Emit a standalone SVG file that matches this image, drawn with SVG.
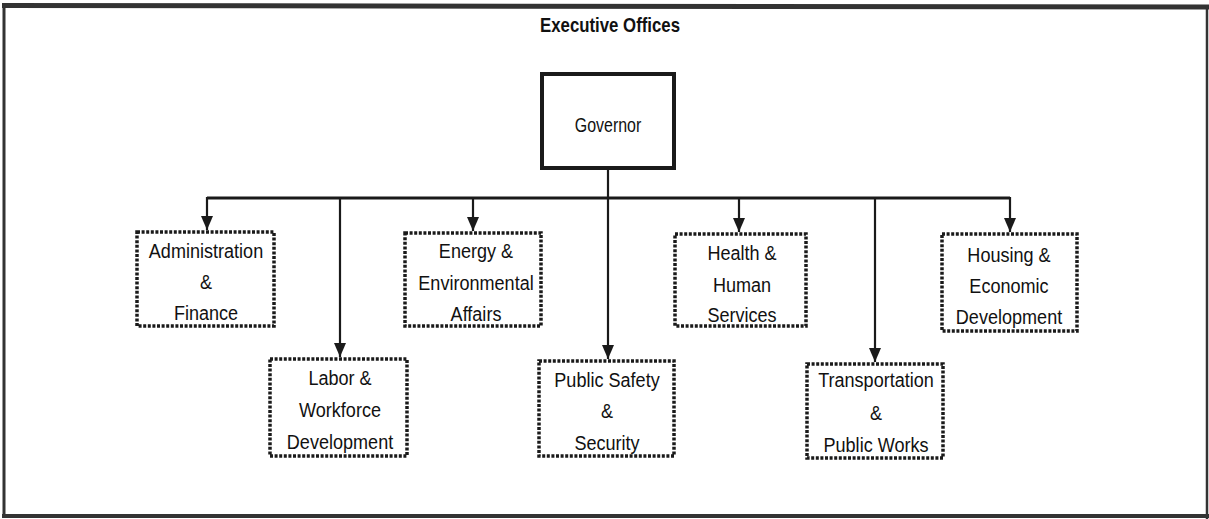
<svg xmlns="http://www.w3.org/2000/svg" width="1209" height="519" viewBox="0 0 1209 519">
  <defs>
    <style>
      .title { font-family: "Liberation Sans", Arial, sans-serif; font-weight: bold; font-size: 20px; fill: #111; }
      .lbl { font-family: "Liberation Sans", Arial, sans-serif; font-size: 21px; fill: #111; text-anchor: middle; }
      .gov { fill: #fff; stroke: #1a1a1a; stroke-width: 4; }
      .dept { fill: #fff; stroke: #1a1a1a; stroke-width: 3.5; stroke-dasharray: 3 1.6; }
      .conn { fill: none; stroke: #1a1a1a; stroke-width: 2.2; }
      .bus { fill: none; stroke: #1a1a1a; stroke-width: 3; }
    </style>
    <marker id="arr" viewBox="0 0 14 12" refX="14" refY="6" markerWidth="14" markerHeight="12" markerUnits="userSpaceOnUse" orient="auto">
      <path d="M0,0 L14,6 L0,12 Z" fill="#1a1a1a"/>
    </marker>
  </defs>

  <rect x="0" y="0" width="1209" height="519" fill="#fff"/>

  <!-- outer frame -->
  <g id="frame">
    <path d="M2,5.5 L1209,7" stroke="#333" stroke-width="5" fill="none"/>
    <path d="M4,4 L4,517" stroke="#333" stroke-width="3" fill="none"/>
    <path d="M1207,6 L1207,519" stroke="#333" stroke-width="2.5" fill="none"/>
    <path d="M2,516 L1209,516" stroke="#333" stroke-width="4" fill="none"/>
  </g>

  <text class="title" x="0" y="32" text-anchor="middle" transform="translate(610 0) scale(0.84 1)">Executive Offices</text>

  <!-- connectors -->
  <g id="connectors">
    <line class="conn" x1="608" y1="170" x2="608" y2="198"/>
    <line class="bus" x1="207" y1="198" x2="1010" y2="198"/>
    <line class="conn" x1="207" y1="197" x2="207" y2="230" marker-end="url(#arr)"/>
    <line class="conn" x1="340" y1="197" x2="340" y2="357" marker-end="url(#arr)"/>
    <line class="conn" x1="473" y1="197" x2="473" y2="231" marker-end="url(#arr)"/>
    <line class="conn" x1="608" y1="197" x2="608" y2="359" marker-end="url(#arr)"/>
    <line class="conn" x1="739" y1="197" x2="739" y2="232" marker-end="url(#arr)"/>
    <line class="conn" x1="875" y1="197" x2="875" y2="362" marker-end="url(#arr)"/>
    <line class="conn" x1="1010" y1="197" x2="1010" y2="232" marker-end="url(#arr)"/>
  </g>

  <g id="governor">
    <rect class="gov" x="542" y="74" width="132" height="94"/>
    <text class="lbl" x="0" y="132" font-size="24" transform="translate(608 0) scale(0.76 1)">Governor</text>
  </g>

  <g id="admin-finance">
    <rect class="dept" x="137" y="232" width="137" height="94"/>
    <g transform="translate(206 0) scale(0.86 1)">
      <text class="lbl" x="0" y="258">Administration</text>
      <text class="lbl" x="0" y="289">&amp;</text>
      <text class="lbl" x="0" y="320">Finance</text>
    </g>
  </g>

  <g id="labor-workforce">
    <rect class="dept" x="270" y="359" width="137" height="97"/>
    <g transform="translate(340 0) scale(0.86 1)">
      <text class="lbl" x="0" y="385">Labor &amp;</text>
      <text class="lbl" x="0" y="417">Workforce</text>
      <text class="lbl" x="0" y="449">Development</text>
    </g>
  </g>

  <g id="energy-environment">
    <rect class="dept" x="405" y="233" width="136" height="93"/>
    <g transform="translate(476 0) scale(0.86 1)">
      <text class="lbl" x="0" y="258">Energy &amp;</text>
      <text class="lbl" x="0" y="290">Environmental</text>
      <text class="lbl" x="0" y="321">Affairs</text>
    </g>
  </g>

  <g id="public-safety">
    <rect class="dept" x="539" y="361" width="135" height="95"/>
    <g transform="translate(607 0) scale(0.86 1)">
      <text class="lbl" x="0" y="387">Public Safety</text>
      <text class="lbl" x="0" y="418">&amp;</text>
      <text class="lbl" x="0" y="450">Security</text>
    </g>
  </g>

  <g id="health-human">
    <rect class="dept" x="675" y="234" width="131" height="92"/>
    <g transform="translate(742 0) scale(0.86 1)">
      <text class="lbl" x="0" y="260">Health &amp;</text>
      <text class="lbl" x="0" y="292">Human</text>
      <text class="lbl" x="0" y="322">Services</text>
    </g>
  </g>

  <g id="transportation">
    <rect class="dept" x="807" y="364" width="136" height="94"/>
    <g transform="translate(876 0) scale(0.86 1)">
      <text class="lbl" x="0" y="387">Transportation</text>
      <text class="lbl" x="0" y="420">&amp;</text>
      <text class="lbl" x="0" y="452">Public Works</text>
    </g>
  </g>

  <g id="housing-economic">
    <rect class="dept" x="942" y="234" width="135" height="97"/>
    <g transform="translate(1009 0) scale(0.86 1)">
      <text class="lbl" x="0" y="262">Housing &amp;</text>
      <text class="lbl" x="0" y="293">Economic</text>
      <text class="lbl" x="0" y="324">Development</text>
    </g>
  </g>
</svg>
